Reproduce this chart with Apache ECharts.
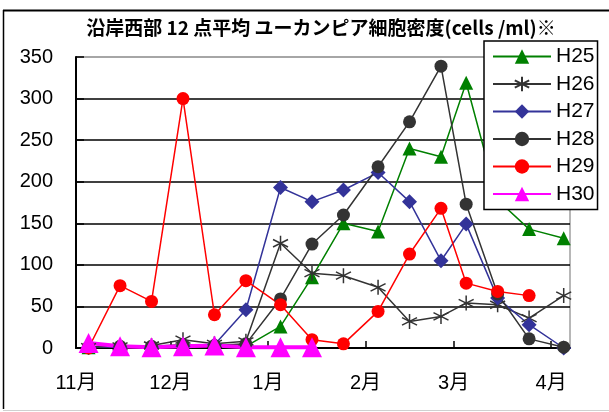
<!DOCTYPE html>
<html>
<head>
<meta charset="utf-8">
<script src="https://cdn.jsdelivr.net/npm/echarts@6/dist/echarts.min.js"></script>
<style>
  html, body { margin: 0; padding: 0; background: #fff; }
  #chart { width: 609px; height: 412px; }
</style>
</head>
<body>
<div id="chart"></div>
<script>
// Sampling dates (month/day), one season from November to April
const sampleDates = ['11/5', '11/15', '11/25', '12/5', '12/15', '12/25', '1/5', '1/15', '1/25',
                     '2/5', '2/15', '2/25', '3/5', '3/15', '3/25', '4/5'];
// Month axis labels and the month each one marks
const monthLabels = ['11月', '12月', '1月', '2月', '3月', '4月'];
const monthNumbers = [11, 12, 1, 2, 3, 4];

// Cell density (cells/ml), average of 12 points
const h25 = [1, 1, 2, 3, 3, 2, 26, 85, 150, 140, 240, 230, 319, 178, 143, 132];
const h26 = [1, 2, 3, 10, 5, 8, 126, 90, 87, 73, 32, 38, 54, 52, 36, 63];
const h27 = [1, 1, 1, 2, 4, 46, 193, 176, 190, 211, 176, 105, 149, 60, 28, 0];
const h28 = [1, 2, 2, 4, 3, 5, 59, 125, 160, 218, 272, 339, 173, 65, 11, 1];
const h29 = [0, 75, 56, 300, 40, 81, 52, 10, 5, 44, 113, 168, 78, 68, 63];
const h30 = [6, 2, 1, 2, 3, 1, 1, 1];

const seriesNames = ['H25', 'H26', 'H27', 'H28', 'H29', 'H30'];

// Days since 1 November of the season
function dayOffset(month, day) {
  const year = month >= 11 ? 2017 : 2018;
  return (Date.UTC(year, month - 1, day) - Date.UTC(2017, 10, 1)) / 86400000;
}
function dateToOffset(s) {
  const [m, d] = s.split('/').map(Number);
  return dayOffset(m, d);
}
const monthStarts = monthNumbers.map(m => dayOffset(m, 1));
const labelByOffset = {};
monthStarts.forEach((v, i) => { labelByOffset[v] = monthLabels[i]; });

function toPoints(values) {
  return values.map((v, i) => [dateToOffset(sampleDates[i]), v]);
}

const starPath = 'path://M0,-8L0,8M-7,-4L7,4M-7,4L7,-4';

function lineSeries(name, values, color, symbol, size, width, extra) {
  return Object.assign({
    name: name,
    type: 'line',
    data: toPoints(values),
    symbol: symbol,
    symbolSize: size,
    showAllSymbol: true,
    lineStyle: { color: color, width: width },
    itemStyle: { color: color },
    emphasis: { disabled: true },
    animation: false
  }, extra || {});
}

const chart = echarts.init(document.getElementById('chart'), null, { renderer: 'canvas' });

chart.setOption({
  backgroundColor: '#fff',
  animation: false,
  title: {
    text: '沿岸西部 12 点平均 ユーカンピア細胞密度(cells /ml)※',
    left: 321,
    textAlign: 'center',
    top: 17,
    padding: 0,
    textStyle: {
      fontFamily: '"Noto Sans CJK JP", sans-serif',
      fontWeight: 'bold',
      fontSize: 19,
      lineHeight: 22,
      color: '#000'
    }
  },
  grid: {
    left: 76, right: 39, top: 57, bottom: 64,
    show: true,
    borderColor: '#a0a0a0',
    borderWidth: 1.5,
    backgroundColor: 'transparent'
  },
  legend: {
    orient: 'vertical',
    left: 484,
    top: 41,
    data: seriesNames,
    itemWidth: 58,
    itemHeight: 18,
    itemGap: 6.5,
    padding: [5, 3, 5, 8],
    backgroundColor: '#fff',
    borderColor: '#000',
    borderWidth: 1.5,
    borderRadius: 0,
    textStyle: {
      fontFamily: '"Liberation Sans", Arial, sans-serif',
      fontSize: 21,
      lineHeight: 21,
      color: '#000'
    }
  },
  xAxis: {
    type: 'value',
    min: 0,
    max: 157,
    axisLine: { show: true, onZero: false, lineStyle: { color: '#000', width: 2 } },
    axisTick: { show: true, inside: true, length: 7, customValues: monthStarts,
                lineStyle: { color: '#000', width: 1.5 } },
    axisLabel: {
      customValues: monthStarts,
      formatter: v => labelByOffset[v] || '',
      margin: 25,
      fontSize: 20,
      color: '#000',
      fontFamily: '"Liberation Sans", "Noto Sans CJK JP", sans-serif'
    },
    splitLine: { show: false }
  },
  yAxis: {
    type: 'value',
    min: 0,
    max: 350,
    interval: 50,
    axisLine: { show: true, lineStyle: { color: '#000', width: 2 } },
    axisTick: { show: true, inside: true, length: 8, lineStyle: { color: '#000', width: 1.5 } },
    axisLabel: {
      margin: 23,
      fontSize: 20,
      color: '#000',
      fontFamily: '"Liberation Sans", Arial, sans-serif'
    },
    splitLine: {
      show: true,
      lineStyle: {
        color: ['#000', '#000', '#000', '#000', '#000', '#000', '#000', '#a0a0a0'],
        width: 1.5
      }
    }
  },
  graphic: [
    { type: 'line', shape: { x1: 3, y1: 10.5, x2: 609, y2: 10.5 },
      style: { stroke: '#000', lineWidth: 2 }, silent: true },
    { type: 'line', shape: { x1: 3.5, y1: 10, x2: 3.5, y2: 409 },
      style: { stroke: '#000', lineWidth: 1.5 }, silent: true },
    { type: 'line', shape: { x1: 3, y1: 410.5, x2: 609, y2: 410.5 },
      style: { stroke: '#d0d0d0', lineWidth: 1 }, silent: true }
  ],
  series: [
    lineSeries('H25', h25, '#008000', 'triangle', 14, 1.5),
    lineSeries('H26', h26, '#333333', starPath, 15, 1.5,
      { itemStyle: { color: 'none', borderColor: '#333333', borderWidth: 1.5 } }),
    lineSeries('H27', h27, '#333399', 'diamond', 15, 1.5),
    lineSeries('H28', h28, '#333333', 'circle', 13, 1.5),
    lineSeries('H29', h29, '#ff0000', 'circle', 13, 1.5),
    lineSeries('H30', h30, '#ff00ff', 'triangle', 20, 4)
  ]
});
</script>
</body>
</html>
